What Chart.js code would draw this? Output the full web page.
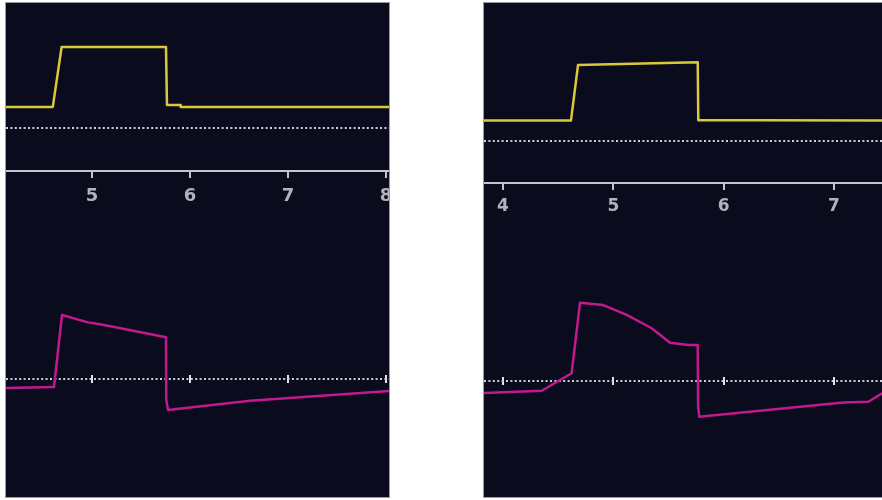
<!DOCTYPE html>
<html>
<head>
<meta charset="utf-8">
<script src="https://cdn.jsdelivr.net/npm/chart.js@4"></script>
<style>
  html, body { margin: 0; padding: 0; background: #ffffff; width: 882px; height: 500px; overflow: hidden; }
  .panel { position: absolute; box-sizing: border-box; background: #0a0b1d; border: 1px solid #9a9aa4; overflow: hidden; }
  .panel canvas { position: absolute; left: 0; }
</style>
</head>
<body>
<div class="panel" id="leftPanel" style="left:5px; top:2px; width:385px; height:496px;">
  <canvas id="leftPressureCanvas" width="383" height="208" style="top:0"></canvas>
  <canvas id="leftFlowCanvas" width="383" height="272" style="top:222px"></canvas>
</div>
<div class="panel" id="rightPanel" style="left:483px; top:2px; width:401px; height:496px;">
  <canvas id="rightPressureCanvas" width="399" height="220" style="top:0"></canvas>
  <canvas id="rightFlowCanvas" width="399" height="272" style="top:222px"></canvas>
</div>
<script>
// ---- Time axis ticks (seconds) ----
const leftTimeTicks  = [5, 6, 7, 8];
const rightTimeTicks = [4, 5, 6, 7];

// ---- Left recording: airway pressure (cmH2O) ----
const leftPressureTime = [4.122, 4.600, 4.690, 5.755, 5.765, 5.898, 5.905, 8.031];
const leftPressure     = [5.2,   5.2,   20.0,  20.0,  5.7,   5.7,   5.2,   5.2];

// ---- Left recording: flow (L/min) ----
const leftFlowTime = [4.122, 4.612, 4.694, 4.959, 5.082, 5.755, 5.758, 5.776, 6.612, 8.031];
const leftFlow     = [-5.6,  -5.0,  40.0,  35.4,  34.2,  26.1,  -13.1, -19.4, -13.6, -7.5];

// ---- Right recording: airway pressure (cmH2O) ----
const rightPressureTime = [3.828, 4.616, 4.680, 5.765, 5.770, 6.300, 7.444];
const rightPressure     = [5.1,   5.1,   19.0,  19.7,  5.2,   5.2,   5.1];

// ---- Right recording: flow (L/min) ----
const rightFlowTime = [3.828, 4.351, 4.622, 4.698, 4.909, 5.121, 5.348, 5.514, 5.680, 5.765, 5.768, 5.779, 7.085, 7.311, 7.444];
const rightFlow     = [-6.7,  -5.4,  4.3,   43.5,  42.2,  36.7,  29.3,  21.3,  20.0,  20.0,  -13.9, -19.8, -12.0, -11.5, -6.5];

// ---- Styling ----
const PRESSURE_COLOR = '#d9c93a';
const FLOW_COLOR = '#c2198f';
const DOT_COLOR = '#cfcfd6';
const AXIS_COLOR = '#c4c4cc';
const LABEL_COLOR = '#b2b2ba';

function toPoints(times, values) {
  return times.map((t, i) => ({ x: t, y: values[i] }));
}

// y scale that only draws the dotted zero reference line
function zeroLineScale(min, max) {
  return {
    type: 'linear', min, max,
    afterBuildTicks(scale) { scale.ticks = [{ value: 0 }]; },
    afterFit(scale) { scale.width = 0; },
    ticks: { display: false },
    grid: { color: DOT_COLOR, lineWidth: 2, drawTicks: false },
    border: { display: false, dash: [2, 2.4] }
  };
}

function pressureChart(canvasId, times, values, tickValues, xMin, xMax, yMin, yMax, fontSize, labelPad) {
  return new Chart(document.getElementById(canvasId), {
    type: 'line',
    data: {
      datasets: [{
        data: toPoints(times, values),
        borderColor: PRESSURE_COLOR,
        borderWidth: 2.5,
        pointRadius: 0,
        tension: 0,
        borderJoinStyle: 'round'
      }]
    },
    options: {
      responsive: false,
      animation: false,
      devicePixelRatio: 1,
      layout: { padding: 0 },
      plugins: { legend: { display: false }, tooltip: { enabled: false } },
      scales: {
        x: {
          type: 'linear', min: xMin, max: xMax, position: 'bottom',
          afterBuildTicks(scale) { scale.ticks = tickValues.map(v => ({ value: v })); },
          afterFit(scale) { scale.height = 40; scale.paddingLeft = 0; scale.paddingRight = 0; },
          ticks: {
            color: LABEL_COLOR, padding: labelPad, maxRotation: 0, autoSkip: false,
            font: { family: 'DejaVu Sans', size: fontSize, weight: 'bold' }
          },
          grid: { drawOnChartArea: false, drawTicks: true, tickLength: 7, color: AXIS_COLOR, lineWidth: 2 },
          border: { display: true, color: AXIS_COLOR, width: 2 }
        },
        y: zeroLineScale(yMin, yMax)
      }
    }
  });
}

function flowChart(canvasId, times, values, tickValues, xMin, xMax, yMin, yMax, markLift) {
  return new Chart(document.getElementById(canvasId), {
    type: 'line',
    data: {
      datasets: [{
        data: toPoints(times, values),
        borderColor: FLOW_COLOR,
        borderWidth: 2.5,
        pointRadius: 0,
        tension: 0,
        borderJoinStyle: 'round'
      }]
    },
    options: {
      responsive: false,
      animation: false,
      devicePixelRatio: 1,
      layout: { padding: 0 },
      plugins: { legend: { display: false }, tooltip: { enabled: false } },
      scales: {
        x: {
          type: 'linear', min: xMin, max: xMax, position: { y: markLift },
          afterBuildTicks(scale) { scale.ticks = tickValues.map(v => ({ value: v })); },
          ticks: { display: false },
          grid: { drawOnChartArea: false, drawTicks: true, tickLength: 8, color: '#e2e2e8', lineWidth: 2 },
          border: { display: false }
        },
        y: zeroLineScale(yMin, yMax)
      }
    }
  });
}

// Left recording
pressureChart('leftPressureCanvas', leftPressureTime, leftPressure, leftTimeTicks,
  4.1224, 8.0306, -10.617, 30.864, 18, 8);
flowChart('leftFlowCanvas', leftFlowTime, leftFlow, leftTimeTicks,
  4.1224, 8.0306, -73.75, 96.25, 2.5);

// Right recording
pressureChart('rightPressureCanvas', rightPressureTime, rightPressure, rightTimeTicks,
  3.8278, 7.4442, -10.5, 34.5, 17, 6);
flowChart('rightFlowCanvas', rightFlowTime, rightFlow, rightTimeTicks,
  3.8278, 7.4442, -64.44, 86.67, 2.2);
</script>
</body>
</html>
